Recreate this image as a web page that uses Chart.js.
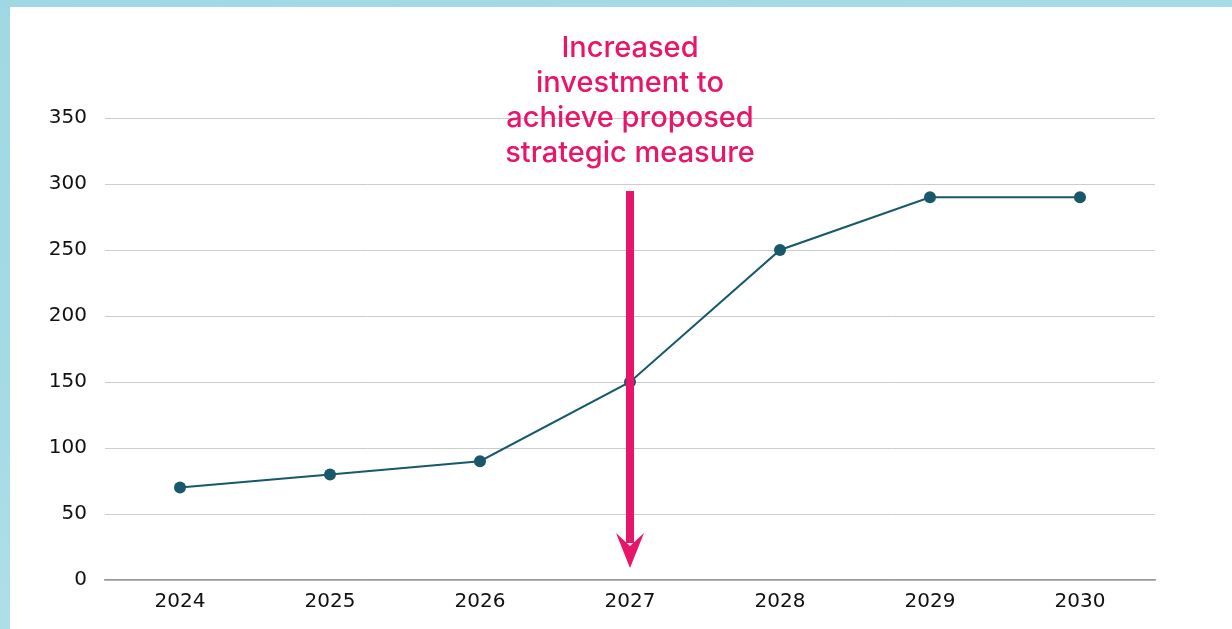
<!DOCTYPE html>
<html>
<head>
<meta charset="utf-8">
<script src="https://cdn.jsdelivr.net/npm/chart.js@4"></script>
<style>
  html, body { margin: 0; padding: 0; }
  body {
    width: 1232px; height: 629px; overflow: hidden; position: relative;
    background: linear-gradient(160deg, #9fd8e3 0%, #a6dbe5 40%, #c3e8ec 100%);
  }
  .panel {
    position: absolute; left: 10px; top: 7px; right: 0; bottom: 0;
    background: #ffffff;
  }
  #lineChart { position: absolute; left: 0; top: 0; }
</style>
</head>
<body>
<div class="panel"></div>
<canvas id="lineChart" width="1232" height="629"></canvas>
<script>
const years = ['2024', '2025', '2026', '2027', '2028', '2029', '2030'];
const values = [70, 80, 90, 150, 250, 290, 290];
const yTicks = [0, 50, 100, 150, 200, 250, 300, 350];
const noteLines = ['Increased', 'investment to', 'achieve proposed', 'strategic measure'];
const noteYear = '2027';

// draws the pink note and the arrow pointing down at 2027
const arrowNote = {
  id: 'arrowNote',
  afterDatasetsDraw(chart) {
    const ctx = chart.ctx;
    const x = chart.scales.x.getPixelForValue(years.indexOf(noteYear));
    const pink = '#e8166b';
    ctx.save();
    ctx.fillStyle = pink;
    ctx.font = '500 29px Inter';
    ctx.textAlign = 'center';
    ctx.textBaseline = 'middle';
    noteLines.forEach((line, i) => {
      ctx.fillText(line, x, 48 + i * 35);
    });
    // shaft
    ctx.fillRect(x - 4, 191, 8, 352);
    // head
    ctx.beginPath();
    ctx.moveTo(x, 568);
    ctx.lineTo(x - 14, 533);
    ctx.lineTo(x, 546);
    ctx.lineTo(x + 14, 533);
    ctx.closePath();
    ctx.fill();
    ctx.restore();
  }
};

const tickFont = { size: 20, family: 'DejaVu Sans' };

new Chart(document.getElementById('lineChart'), {
  type: 'line',
  data: {
    labels: years,
    datasets: [{
      data: values,
      borderColor: '#17596b',
      backgroundColor: '#17596b',
      borderWidth: 2,
      pointRadius: 6,
      pointBackgroundColor: '#17596b',
      pointBorderWidth: 0,
      tension: 0
    }]
  },
  options: {
    responsive: false,
    animation: false,
    layout: { padding: { top: 118, right: 77, left: 0, bottom: 0 } },
    plugins: {
      legend: { display: false },
      tooltip: { enabled: false }
    },
    scales: {
      x: {
        offset: true,
        grid: { display: false, drawTicks: false },
        border: { display: true, color: '#9a9a9a', width: 1.5 },
        ticks: { color: '#111', font: tickFont, padding: 10 },
        afterFit(scale) { scale.height = 49; }
      },
      y: {
        min: 0,
        max: 350,
        afterBuildTicks(scale) { scale.ticks = yTicks.map(v => ({ value: v })); },
        grid: { color: '#cccccc', lineWidth: 1, drawTicks: false },
        border: { display: false },
        ticks: { color: '#111', font: tickFont, padding: 18 },
        afterFit(scale) { scale.width = 105; }
      }
    }
  },
  plugins: [arrowNote]
});
</script>
</body>
</html>
